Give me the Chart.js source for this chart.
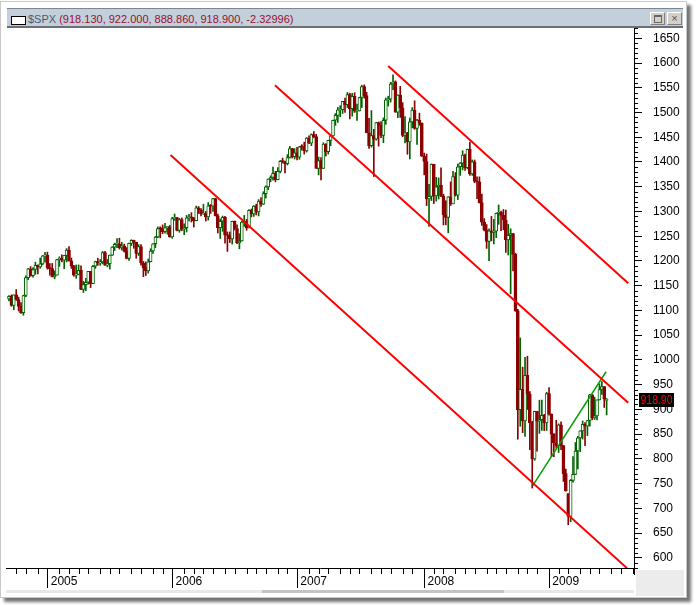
<!DOCTYPE html>
<html>
<head>
<meta charset="utf-8">
<title>$SPX weekly</title>
<script src="https://cdn.jsdelivr.net/npm/chart.js@4/dist/chart.umd.min.js"></script>
<style>
    html, body { margin: 0; padding: 0; background: #fff; }
    #wrap { position: relative; width: 696px; height: 605px; overflow: hidden; font-family: "Liberation Sans", Arial, sans-serif; }
    #frame { position: absolute; left: 0; top: 1px; width: 685px; height: 595px; border: 1px solid #c8c8c8; background: #fff; box-shadow: 4px 4px 3px rgba(0,0,0,0.55); }
    #titlebar { position: absolute; left: 7px; top: 8px; width: 676px; height: 17px; background: #c3cfdb; border-top: 1px solid #7c8690; border-bottom: 2px solid #6a7078; z-index: 2; font-size: 11px; line-height: 17px; white-space: nowrap; }
    #titlebar .icon { position: absolute; left: 4px; top: 7px; width: 13px; height: 7px; border: 1px solid #000; background: #fff; }
    #titlebar .txt { position: absolute; left: 21px; top: 2px; }
    .sym { color: #4b5a6b; }
    .vals { color: #9a1030; }
    .btn { position: absolute; top: 3px; width: 13px; height: 11px; background: #d4d0c8; border: 1px solid; border-color: #fff #808080 #808080 #fff; }
    .btn .sq { position: absolute; left: 3px; top: 2px; width: 6px; height: 5px; border: 1px solid #666; border-top-width: 2px; }
    .btn .x { position: absolute; left: 0; top: -3px; width: 13px; text-align: center; font-size: 11px; color: #555; }
    #chart { position: absolute; left: 0; top: 0; z-index: 1; }
    #corner { position: absolute; left: 636px; top: 570px; width: 48px; height: 26px; background: #ececec; }
    #scroll { position: absolute; left: 6px; top: 590px; width: 628px; height: 3px; background: #e8e8e8; }
    #thumb { position: absolute; left: 262px; top: 590px; width: 242px; height: 3px; background: #c4c4c4; }
</style>
</head>
<body>
<div id="wrap">
    <div id="frame"></div>
    <div id="titlebar">
        <div class="icon"></div>
        <div class="txt"><span class="sym">$SPX</span> <span class="vals">(918.130, 922.000, 888.860, 918.900, -2.32996)</span></div>
        <div class="btn" style="left:643px"><div class="sq"></div></div>
        <div class="btn" style="left:660px"><div class="x">×</div></div>
    </div>
    <div id="corner"></div>
    <div id="scroll"></div>
    <div id="thumb"></div>
    <canvas id="chart" width="696" height="605"></canvas>
</div>
<script>
// Weekly candles, first week starts Mon 13 Sep 2004
const firstWeek = Date.UTC(2004, 8, 13);
const yearLabels = ['2005', '2006', '2007', '2008', '2009'];

const opens = [
    1123.3, 1128.6, 1110.1, 1131.5, 1122.1, 1108.2, 1095.2, 1130.2, 1166.2, 1184.2, 1170.3, 1182.7, 1191.2, 1188.0, 1194.2, 1210.1,
    // 2005
    1211.9, 1186.2, 1184.5, 1167.9, 1171.4, 1203.0, 1205.3, 1201.6, 1211.4, 1222.1, 1200.1, 1190.2, 1171.4, 1172.9, 1181.2, 1142.6, 1152.1, 1156.9, 1178.8, 1154.1, 1189.3, 1198.8, 1196.0, 1198.1, 1217.0, 1191.6,
    1194.4, 1211.9, 1227.9, 1233.7, 1234.2, 1226.4, 1230.4, 1219.7, 1205.1, 1235.4, 1241.5, 1237.9, 1215.3, 1228.8, 1195.9, 1186.6, 1179.6, 1198.4, 1220.1, 1234.7, 1248.3, 1265.6, 1265.1, 1259.4, 1267.3, 1268.7,
    // 2006
    1248.3, 1285.5, 1287.6, 1261.5, 1283.7, 1264.0, 1267.0, 1287.2, 1289.4, 1287.2, 1281.4, 1307.3, 1303.0, 1294.9, 1295.5, 1289.1, 1311.3, 1310.6, 1325.8, 1291.2, 1267.0, 1280.2, 1288.2, 1252.3, 1251.5, 1244.5,
    1280.2, 1265.5, 1236.2, 1240.3, 1278.6, 1279.4, 1266.7, 1302.3, 1295.1, 1311.0, 1298.9, 1321.2, 1314.8, 1335.9, 1349.6, 1365.6, 1368.6, 1377.3, 1364.3, 1380.9, 1401.2, 1401.0, 1396.7, 1409.1, 1427.1, 1410.8,
    // 2007
    1418.3, 1409.7, 1430.7, 1430.5, 1422.2, 1448.4, 1438.1, 1455.5, 1451.2, 1387.2, 1402.8, 1387.0, 1436.1, 1420.9, 1443.8, 1452.9, 1484.4, 1494.1, 1505.6, 1505.9, 1522.8, 1515.7, 1536.3, 1507.7, 1532.9, 1502.6, 1503.4,
    1530.4, 1552.5, 1534.1, 1459.0, 1433.1, 1453.6, 1445.9, 1479.4, 1474.0, 1453.6, 1484.3, 1525.8, 1526.8, 1557.6, 1561.8, 1500.6, 1535.3, 1509.7, 1453.7, 1458.7, 1440.7, 1481.1, 1504.7, 1468.0, 1484.5, 1478.5,
    // 2008
    1411.6, 1401.0, 1325.2, 1330.6, 1395.4, 1331.3, 1350.0, 1353.1, 1331.3, 1293.4, 1288.1, 1329.5, 1315.2, 1370.4, 1332.8, 1390.3, 1397.8, 1413.9, 1388.3, 1425.4, 1375.9, 1400.4, 1360.7, 1360.0, 1317.9, 1278.4,
    1262.9, 1239.5, 1260.7, 1257.8, 1260.3, 1296.3, 1298.2, 1292.2, 1282.8, 1242.3, 1251.7, 1255.1, 1213.3, 1099.2, 899.2, 940.6, 876.8, 968.8, 931.0, 873.3, 800.0, 896.2, 876.1, 879.1, 887.9, 872.8,
    // 2009
    931.8, 890.4, 850.1, 832.0, 825.9, 868.6, 826.8, 770.1, 729.6, 683.4, 756.6, 768.5, 815.9, 842.5, 856.6, 869.6, 866.2, 877.5, 929.2, 882.9, 887.0, 919.1, 940.1, 946.2, 918.13
];

const highs = [
    1130.0, 1131.5, 1131.5, 1142.1, 1127.0, 1116.0, 1131.0, 1170.0, 1185.0, 1188.5, 1186.6, 1197.5, 1192.0, 1206.0, 1211.0, 1217.3,
    // 2005
    1217.8, 1194.8, 1195.0, 1180.0, 1203.5, 1208.4, 1212.4, 1211.4, 1225.0, 1229.1, 1206.0, 1191.0, 1191.9, 1192.0, 1190.0, 1159.0, 1164.8, 1179.0, 1178.9, 1191.1, 1199.6, 1205.6, 1203.0, 1219.1, 1219.6, 1203.0,
    1212.0, 1229.0, 1236.0, 1245.2, 1245.9, 1237.8, 1234.0, 1227.0, 1236.0, 1243.0, 1242.0, 1238.0, 1233.0, 1233.0, 1199.0, 1198.0, 1204.0, 1224.7, 1235.0, 1249.6, 1268.8, 1269.0, 1272.9, 1275.8, 1269.8, 1271.8,
    // 2006
    1288.0, 1294.9, 1288.0, 1286.0, 1287.0, 1275.0, 1292.0, 1294.0, 1297.6, 1288.0, 1310.9, 1310.0, 1306.0, 1314.6, 1300.0, 1318.0, 1314.0, 1326.7, 1326.7, 1294.7, 1285.0, 1290.7, 1290.3, 1258.6, 1258.6, 1280.5,
    1280.9, 1273.0, 1255.0, 1280.0, 1292.0, 1284.0, 1304.0, 1305.0, 1312.0, 1314.7, 1324.0, 1328.0, 1340.0, 1352.0, 1366.0, 1372.0, 1389.5, 1381.0, 1388.6, 1403.0, 1407.9, 1402.0, 1415.0, 1431.6, 1427.7, 1427.0,
    // 2007
    1429.4, 1431.6, 1435.0, 1440.0, 1449.3, 1453.0, 1456.8, 1461.6, 1456.0, 1410.0, 1409.0, 1438.9, 1437.0, 1444.0, 1453.0, 1484.7, 1498.0, 1510.3, 1513.8, 1522.8, 1529.3, 1540.6, 1539.1, 1538.7, 1540.0, 1517.0, 1531.0,
    1555.0, 1555.9, 1541.0, 1488.0, 1503.9, 1466.0, 1480.0, 1481.0, 1481.5, 1489.0, 1529.4, 1533.0, 1561.0, 1576.1, 1564.0, 1536.0, 1552.8, 1520.0, 1492.0, 1460.0, 1488.9, 1510.0, 1523.6, 1486.0, 1498.8, 1479.0,
    // 2008
    1418.0, 1416.0, 1355.0, 1396.0, 1395.5, 1369.0, 1367.9, 1388.0, 1335.0, 1321.7, 1330.0, 1359.7, 1380.9, 1378.7, 1395.9, 1399.0, 1422.7, 1416.0, 1426.0, 1440.2, 1404.1, 1404.0, 1370.0, 1370.0, 1335.0, 1285.5,
    1273.5, 1265.0, 1290.0, 1284.0, 1297.0, 1313.2, 1300.7, 1303.9, 1303.0, 1274.0, 1265.0, 1256.0, 1215.8, 1102.0, 1044.3, 985.4, 1005.0, 1007.5, 936.0, 876.0, 896.3, 896.3, 918.6, 918.9, 890.1, 934.7,
    // 2009
    943.9, 891.0, 851.0, 877.9, 870.8, 875.0, 827.0, 779.4, 729.6, 758.3, 804.5, 833.0, 845.6, 856.9, 876.6, 873.4, 878.0, 930.2, 930.0, 924.6, 919.1, 951.7, 956.2, 946.3, 922.0
];

const lows = [
    1119.0, 1108.4, 1101.3, 1120.2, 1098.8, 1094.0, 1090.2, 1127.6, 1162.0, 1169.0, 1167.0, 1173.0, 1173.8, 1185.0, 1192.0, 1197.4,
    // 2005
    1183.3, 1171.2, 1167.8, 1163.8, 1171.4, 1189.0, 1198.0, 1184.2, 1198.0, 1199.7, 1185.0, 1169.0, 1165.0, 1172.0, 1141.9, 1136.2, 1139.9, 1153.0, 1146.2, 1154.0, 1185.0, 1191.0, 1191.0, 1194.0, 1191.0, 1188.0,
    1183.6, 1211.0, 1221.0, 1227.0, 1224.0, 1222.0, 1218.0, 1204.0, 1201.0, 1231.0, 1225.6, 1205.4, 1211.0, 1191.4, 1168.2, 1170.6, 1175.4, 1198.0, 1215.0, 1227.0, 1247.0, 1246.6, 1255.0, 1256.0, 1254.0, 1248.0,
    // 2006
    1245.7, 1282.0, 1260.9, 1258.0, 1261.0, 1253.0, 1258.6, 1281.0, 1278.7, 1268.4, 1281.0, 1295.8, 1291.0, 1294.0, 1280.7, 1282.5, 1296.0, 1300.0, 1290.9, 1256.6, 1245.3, 1259.9, 1235.7, 1219.3, 1237.2, 1234.0,
    1262.6, 1235.0, 1224.5, 1240.0, 1270.0, 1262.0, 1266.5, 1289.0, 1290.0, 1293.0, 1291.0, 1310.0, 1314.0, 1327.0, 1344.0, 1360.0, 1363.0, 1360.0, 1364.0, 1378.0, 1398.0, 1377.8, 1394.0, 1408.0, 1408.0, 1406.0,
    // 2007
    1404.0, 1405.4, 1424.0, 1416.0, 1420.0, 1437.0, 1433.0, 1449.0, 1387.0, 1373.8, 1364.0, 1386.9, 1412.0, 1416.0, 1433.0, 1452.0, 1474.0, 1480.0, 1491.4, 1498.0, 1500.0, 1510.0, 1487.0, 1492.7, 1500.0, 1484.2, 1503.0,
    1510.0, 1529.0, 1458.9, 1427.4, 1430.0, 1370.6, 1444.0, 1432.0, 1449.0, 1439.0, 1476.0, 1513.0, 1521.0, 1546.0, 1500.3, 1489.6, 1490.0, 1451.0, 1438.5, 1415.6, 1406.1, 1469.0, 1466.0, 1435.7, 1474.0, 1411.2,
    // 2008
    1374.0, 1312.0, 1270.0, 1322.0, 1316.0, 1321.0, 1325.0, 1330.0, 1272.7, 1273.0, 1257.0, 1312.0, 1315.0, 1331.0, 1324.0, 1373.0, 1384.0, 1383.0, 1386.0, 1373.0, 1373.0, 1358.0, 1326.0, 1317.0, 1272.0, 1260.7,
    1225.4, 1200.4, 1240.7, 1234.4, 1247.0, 1274.0, 1261.0, 1263.0, 1217.0, 1212.0, 1133.5, 1179.8, 1098.1, 839.8, 865.8, 852.9, 845.3, 899.7, 818.7, 741.0, 797.0, 815.7, 851.4, 857.7, 857.1, 857.3,
    // 2009
    888.3, 804.3, 804.5, 821.7, 812.9, 818.4, 754.3, 734.5, 666.8, 672.9, 753.0, 768.0, 779.8, 814.5, 840.0, 826.8, 847.0, 866.0, 878.9, 879.6, 878.9, 919.0, 930.0, 903.8, 888.86
];

const closes = [
    1128.6, 1110.1, 1131.5, 1122.1, 1108.2, 1095.2, 1130.2, 1166.2, 1184.2, 1170.3, 1182.7, 1191.2, 1188.0, 1194.2, 1210.1, 1211.9,
    // 2005
    1186.2, 1184.5, 1167.9, 1171.4, 1203.0, 1205.3, 1201.6, 1211.4, 1222.1, 1200.1, 1190.2, 1171.4, 1172.9, 1181.2, 1142.6, 1152.1, 1156.9, 1178.8, 1154.1, 1189.3, 1198.8, 1196.0, 1198.1, 1217.0, 1191.6, 1194.4,
    1211.9, 1227.9, 1233.7, 1234.2, 1226.4, 1230.4, 1219.7, 1205.1, 1235.4, 1241.5, 1237.9, 1215.3, 1228.8, 1195.9, 1186.6, 1179.6, 1198.4, 1220.1, 1234.7, 1248.3, 1265.6, 1265.1, 1259.4, 1267.3, 1268.7, 1248.3,
    // 2006
    1285.5, 1287.6, 1261.5, 1283.7, 1264.0, 1267.0, 1287.2, 1289.4, 1287.2, 1281.4, 1307.3, 1303.0, 1294.9, 1295.5, 1289.1, 1311.3, 1310.6, 1325.8, 1291.2, 1267.0, 1280.2, 1288.2, 1252.3, 1251.5, 1244.5, 1280.2,
    1265.5, 1236.2, 1240.3, 1278.6, 1279.4, 1266.7, 1302.3, 1295.1, 1311.0, 1298.9, 1321.2, 1314.8, 1335.9, 1349.6, 1365.6, 1368.6, 1377.3, 1364.3, 1380.9, 1401.2, 1401.0, 1396.7, 1409.1, 1427.1, 1410.8, 1418.3,
    // 2007
    1409.7, 1430.7, 1430.5, 1422.2, 1448.4, 1438.1, 1455.5, 1451.2, 1387.2, 1402.8, 1387.0, 1436.1, 1420.9, 1443.8, 1452.9, 1484.4, 1494.1, 1505.6, 1505.9, 1522.8, 1515.7, 1536.3, 1507.7, 1532.9, 1502.6, 1503.4, 1530.4,
    1552.5, 1534.1, 1459.0, 1433.1, 1453.6, 1445.9, 1479.4, 1474.0, 1453.6, 1484.3, 1525.8, 1526.8, 1557.6, 1561.8, 1500.6, 1535.3, 1509.7, 1453.7, 1458.7, 1440.7, 1481.1, 1504.7, 1468.0, 1484.5, 1478.5, 1411.6,
    // 2008
    1401.0, 1325.2, 1330.6, 1395.4, 1331.3, 1350.0, 1353.1, 1331.3, 1293.4, 1288.1, 1329.5, 1315.2, 1370.4, 1332.8, 1390.3, 1397.8, 1413.9, 1388.3, 1425.4, 1375.9, 1400.4, 1360.7, 1360.0, 1317.9, 1278.4, 1262.9,
    1239.5, 1260.7, 1257.8, 1260.3, 1296.3, 1298.2, 1292.2, 1282.8, 1242.3, 1251.7, 1255.1, 1213.3, 1099.2, 899.2, 940.6, 876.8, 968.8, 931.0, 873.3, 800.0, 896.2, 876.1, 879.1, 887.9, 872.8, 931.8,
    // 2009
    890.4, 850.1, 832.0, 825.9, 868.6, 826.8, 770.1, 735.1, 683.4, 756.6, 768.5, 815.9, 842.5, 856.6, 869.6, 866.2, 877.5, 929.2, 882.9, 887.0, 919.1, 940.1, 946.2, 921.2, 918.9
];

// Trend lines: [week index, price] at both ends
const upperChannel = [[158.0, 1594], [258.0, 1155]];
const middleChannel = [[110.8, 1555], [258.0, 913.5]];
const lowerChannel = [[67.3, 1414], [257.5, 579]];
const riseLine = [[218.2, 746], [248.75, 976]];

// Month / year tick positions (first week whose Monday is in the new month)
const weekDate = i => new Date(firstWeek + i * 7 * 86400000);
const monthTicks = [];
const yearTicks = [];
for (let i = 1; i < 261; i++) {
    if (weekDate(i).getUTCMonth() !== weekDate(i - 1).getUTCMonth()) {
        (weekDate(i).getUTCMonth() === 0 ? yearTicks : monthTicks).push(i);
    }
}

const upColor = '#006400';
const downColor = '#8b0000';
const isUp = closes.map((c, i) => c >= opens[i]);

const toPoints = line => line.map(p => ({x: p[0], y: p[1]}));

const trendLine = (data, color, width) => ({
    type: 'line',
    data: toPoints(data),
    borderColor: color,
    borderWidth: width,
    pointRadius: 0,
    fill: false,
    order: 0
});

// Minor ticks + last price box
const axisExtras = {
    id: 'axisExtras',
    afterDraw(chart) {
        const {ctx, chartArea, scales: {x, y}} = chart;
        ctx.save();
        ctx.strokeStyle = '#000';
        ctx.lineWidth = 1;
        ctx.beginPath();
        for (let v = Math.ceil(y.min / 10) * 10; v <= y.max; v += 10) {
            if (v % 50 === 0) continue;
            const py = Math.round(y.getPixelForValue(v)) + 0.5;
            ctx.moveTo(chartArea.right, py);
            ctx.lineTo(chartArea.right + 4, py);
        }
        monthTicks.forEach(i => {
            const px = Math.round(x.getPixelForValue(i)) + 0.5;
            ctx.moveTo(px, chartArea.bottom);
            ctx.lineTo(px, chartArea.bottom + 6);
        });
        // axis line runs a little past the bottom edge
        ctx.moveTo(chartArea.right + 0.5, chartArea.bottom);
        ctx.lineTo(chartArea.right + 0.5, chartArea.bottom + 7);
        ctx.stroke();

        const last = closes[closes.length - 1];
        const py = Math.round(y.getPixelForValue(last));
        ctx.fillStyle = '#000';
        ctx.fillRect(chartArea.right + 5, py - 7, 35, 14);
        ctx.fillStyle = '#ff0000';
        ctx.font = '12px "Liberation Sans", Arial, sans-serif';
        ctx.textBaseline = 'middle';
        ctx.fillText(last.toFixed(2), chartArea.right + 6.5, py + 0.5, 32);
        ctx.restore();
    }
};

Chart.defaults.font.family = '"Liberation Sans", Arial, sans-serif';
Chart.defaults.font.size = 12;

new Chart(document.getElementById('chart'), {
    type: 'bar',
    data: {
        datasets: [
            trendLine(upperChannel, '#ff0000', 2),
            trendLine(middleChannel, '#ff0000', 2),
            trendLine(lowerChannel, '#ff0000', 2),
            trendLine(riseLine, '#00a000', 1.5),
            {
                label: 'bodies',
                data: closes.map((c, i) => ({x: i, y: [Math.min(opens[i], c), Math.max(opens[i], c)]})),
                backgroundColor: isUp.map(u => u ? '#ffffff' : downColor),
                borderColor: isUp.map(u => u ? upColor : downColor),
                borderWidth: 1,
                borderSkipped: false,
                barThickness: 3,
                minBarLength: 1,
                grouped: false,
                order: 1
            },
            {
                label: 'wicks',
                data: highs.map((h, i) => ({x: i, y: [lows[i], h]})),
                backgroundColor: isUp.map(u => u ? upColor : downColor),
                borderWidth: 0,
                barThickness: 1,
                grouped: false,
                order: 2
            }
        ]
    },
    options: {
        responsive: false,
        animation: false,
        events: [],
        layout: {padding: {left: 6, right: 12, top: 28, bottom: 15}},
        plugins: {legend: {display: false}, tooltip: {enabled: false}},
        scales: {
            x: {
                type: 'linear',
                position: 'bottom',
                min: -1.25,
                max: 260.4,
                offset: false,
                grid: {drawOnChartArea: false, offset: false, tickLength: 20, color: '#000'},
                border: {color: '#000'},
                ticks: {
                    autoSkip: false,
                    maxRotation: 0,
                    align: 'start',
                    padding: -14,
                    color: '#000',
                    callback: (v, i) => ' ' + yearLabels[i]
                },
                afterBuildTicks: scale => { scale.ticks = yearTicks.map(v => ({value: v})); },
                afterFit: scale => { scale.height = 22; }
            },
            y: {
                position: 'right',
                min: 579.4,
                max: 1670.8,
                beginAtZero: false,
                grid: {drawOnChartArea: false, tickLength: 8, color: '#000'},
                border: {color: '#000'},
                ticks: {
                    stepSize: 50,
                    includeBounds: false,
                    padding: 11,
                    color: '#000',
                    callback: v => String(v)
                },
                afterFit: scale => { scale.width = 50; }
            }
        }
    },
    plugins: [axisExtras]
});
</script>
</body>
</html>
